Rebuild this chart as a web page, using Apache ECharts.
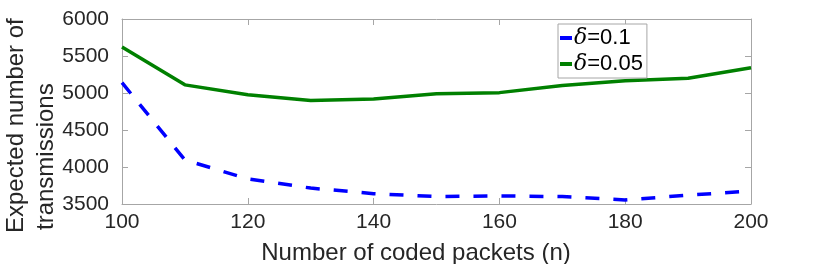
<!DOCTYPE html>
<html><head><meta charset="utf-8">
<script src="https://cdn.jsdelivr.net/npm/echarts@6/dist/echarts.min.js"></script>
<style>html,body{margin:0;padding:0;background:#fff}#c{width:830px;height:264px}</style>
</head><body><div id="c"></div>
<script>
const nValues = [100, 110, 120, 130, 140, 150, 160, 170, 180, 190, 200];
const delta01 = [5140, 4095, 3840, 3715, 3640, 3600, 3610, 3600, 3555, 3620, 3675];
const delta005 = [5620, 5110, 4975, 4900, 4920, 4990, 5005, 5100, 5165, 5200, 5340];
const seriesNames = ['δ=0.1', 'δ=0.05'];
const xTicks = [100, 120, 140, 160, 180, 200];
const yTicks = [3500, 4000, 4500, 5000, 5500, 6000];

const chart = echarts.init(document.getElementById('c'), null, {renderer: 'canvas'});
const axisCol = '#a6a6a6';
const txtCol = '#262626';
const font = 'Liberation Sans, Arial, Helvetica, sans-serif';
const pair = arr => nValues.map((x, i) => [x, arr[i]]);

const xBase = {
  type: 'value', min: xTicks[0], max: xTicks[xTicks.length - 1], interval: 20,
  axisLine: {show: true, lineStyle: {color: axisCol, width: 1}},
  axisTick: {show: true, inside: true, length: 6, lineStyle: {color: axisCol}},
  splitLine: {show: false}
};
const yBase = {
  type: 'value', min: yTicks[0], max: yTicks[yTicks.length - 1], interval: 500,
  axisLine: {show: true, lineStyle: {color: axisCol, width: 1}},
  axisTick: {show: true, inside: true, length: 6, lineStyle: {color: axisCol}},
  splitLine: {show: false}
};

chart.setOption({
  animation: false,
  backgroundColor: '#fff',
  grid: {left: 122, right: 79, top: 19, bottom: 60, containLabel: false},
  xAxis: [
    Object.assign({}, xBase, {position: 'bottom',
      axisLabel: {show: true, color: txtCol, fontSize: 21, fontFamily: font, margin: 8,
        formatter: v => String(v)}}),
    Object.assign({}, xBase, {position: 'top', axisLabel: {show: false}})
  ],
  yAxis: [
    Object.assign({}, yBase, {position: 'left',
      axisLabel: {show: true, color: txtCol, fontSize: 21, fontFamily: font, margin: 13,
        formatter: v => String(v)}}),
    Object.assign({}, yBase, {position: 'right', axisLabel: {show: false}})
  ],
  legend: {
    orient: 'vertical', left: 558, top: 24,
    padding: [3, 4, 3, 2], itemGap: 4,
    itemWidth: 12, itemHeight: 4,
    borderColor: axisCol, borderWidth: 1, backgroundColor: '#fff',
    data: seriesNames.map(n => ({name: n, icon: 'rect'})),
    formatter: n => '{d|δ}{t|' + n.slice(1) + '}',
    textStyle: {
      color: '#000', fontSize: 22, fontFamily: font, padding: [0, 0, 0, -3],
      rich: {
        d: {fontFamily: 'DejaVu Serif, Liberation Serif, serif', fontStyle: 'italic', fontSize: 22, color: '#000'},
        t: {fontFamily: font, fontSize: 22, color: '#000'}
      }
    }
  },
  series: [
    {name: seriesNames[0], type: 'line', data: pair(delta01), showSymbol: false, symbol: 'none',
     color: '#0000ff',
     lineStyle: {color: '#0000ff', width: 3.5, type: [14, 14]}, z: 3},
    {name: seriesNames[1], type: 'line', data: pair(delta005), showSymbol: false, symbol: 'none',
     color: '#008000',
     lineStyle: {color: '#008000', width: 3.5, type: 'solid'}, z: 3}
  ],
  graphic: [
    {type: 'text', x: 416, y: 253, style: {text: 'Number of coded packets (n)', fill: txtCol,
      font: '24px ' + font, textAlign: 'center', textVerticalAlign: 'middle'}},
    {type: 'text', x: 28, y: 233, rotation: Math.PI / 2, style: {text: 'Expected number of', fill: txtCol,
      font: '24px ' + font, textAlign: 'left', textVerticalAlign: 'bottom'}},
    {type: 'text', x: 58, y: 230, rotation: Math.PI / 2, style: {text: 'transmissions', fill: txtCol,
      font: '24px ' + font, textAlign: 'left', textVerticalAlign: 'bottom'}}
  ]
});
</script></body></html>
